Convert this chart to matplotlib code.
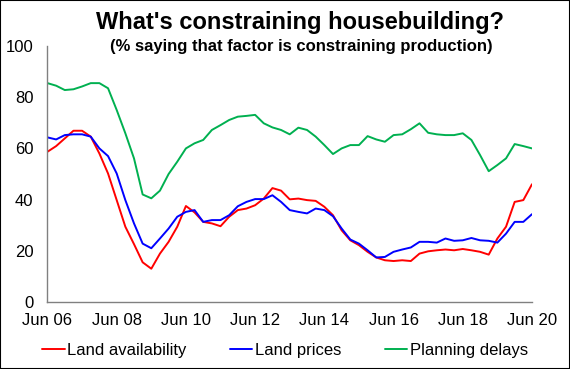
import matplotlib
matplotlib.use("Agg")
import matplotlib.pyplot as plt
from matplotlib.patches import Rectangle

plt.rcParams['font.family'] = ['Liberation Sans', 'DejaVu Sans']

# quarterly, Jun 06 .. Jun 20
tick_labels = ["Jun 06", "Jun 08", "Jun 10", "Jun 12", "Jun 14", "Jun 16", "Jun 18", "Jun 20"]

land_availability = [
    58.7, 60.9, 63.9, 66.9, 66.9, 64.6, 58.0, 50.2, 39.8, 29.4,
    22.6, 15.5, 13.0, 18.9, 23.5, 29.4, 37.5, 35.0, 31.3, 30.7,
    29.6, 33.3, 35.9, 36.5, 37.8, 40.4, 44.5, 43.5, 40.1, 40.4,
    39.8, 39.5, 37.2, 33.9, 28.0, 24.1, 22.2, 19.6, 17.4, 16.3,
    16.0, 16.3, 16.0, 18.9, 19.8, 20.2, 20.5, 20.2, 20.7, 20.2,
    19.6, 18.5, 24.8, 29.4, 39.1, 39.8, 46.0,
]
land_prices = [
    64.3, 63.5, 65.2, 65.5, 65.5, 64.6, 60.0, 57.0, 50.2, 39.8,
    30.7, 22.8, 21.0, 24.8, 28.7, 33.3, 35.2, 35.9, 31.3, 32.0,
    32.0, 33.9, 37.4, 39.1, 40.2, 40.2, 41.7, 39.1, 35.9, 35.2,
    34.6, 36.5, 35.9, 33.5, 28.7, 24.4, 22.8, 20.2, 17.4, 17.6,
    19.6, 20.5, 21.3, 23.5, 23.5, 23.2, 24.8, 23.9, 24.1, 25.0,
    24.1, 23.9, 23.2, 26.7, 31.3, 31.3, 34.3,
]
planning_delays = [
    85.5, 84.5, 82.8, 83.1, 84.2, 85.5, 85.5, 83.5, 75.0, 65.9,
    56.1, 42.0, 40.5, 43.5, 50.0, 54.8, 60.0, 62.0, 63.3, 67.2,
    69.1, 71.1, 72.4, 72.7, 73.1, 69.8, 68.2, 67.2, 65.5, 68.1,
    67.2, 64.6, 61.3, 57.8, 60.0, 61.3, 61.3, 64.8, 63.5, 62.6,
    65.2, 65.5, 67.5, 69.8, 66.1, 65.5, 65.2, 65.2, 65.9, 63.3,
    57.4, 51.1, 53.5, 56.1, 61.7, 60.9, 60.0,
]

x = list(range(len(land_availability)))

fig = plt.figure(figsize=(5.7, 3.69), dpi=100)
ax = fig.add_axes([0.0833, 0.1816, 0.85, 0.6937])

line_kw = dict(lw=1.4, solid_joinstyle="round", solid_capstyle="round")
ax.plot(x, land_availability, color="#FF0000", label="Land availability", **line_kw)
ax.plot(x, land_prices, color="#0000FF", label="Land prices", **line_kw)
ax.plot(x, planning_delays, color="#00B050", label="Planning delays", **line_kw)

ax.set_xlim(0, len(x) - 1)
ax.set_ylim(0, 100)
ax.set_yticks(range(0, 101, 20))
ax.set_xticks(range(0, len(x), 8))
ax.set_xticklabels(tick_labels)
ax.tick_params(axis="both", length=0, labelsize=12)
ax.tick_params(axis="y", pad=10)
ax.tick_params(axis="x", pad=8)

for s in ["top", "right"]:
    ax.spines[s].set_visible(False)
for s in ["left", "bottom"]:
    ax.spines[s].set_color("#808080")
    ax.spines[s].set_linewidth(1)

fig.text(0.527, 1 - 23 / 369, "What's constraining housebuilding?",
         ha="center", va="center", fontsize=17, fontweight="bold")
fig.text(0.528, 1 - 47 / 369, "(% saying that factor is constraining production)",
         ha="center", va="center", fontsize=12, fontweight="bold")

fig.legend(loc="center", bbox_to_anchor=(0.5, 1 - 350 / 369), ncol=3,
           frameon=False, fontsize=12, handlelength=1.35, handletextpad=0.15,
           columnspacing=2.6)

fig.add_artist(Rectangle((0, 0), 1, 1, transform=fig.transFigure,
                         fill=False, edgecolor="black", lw=1.5))

fig.savefig("out.png", dpi=100)
